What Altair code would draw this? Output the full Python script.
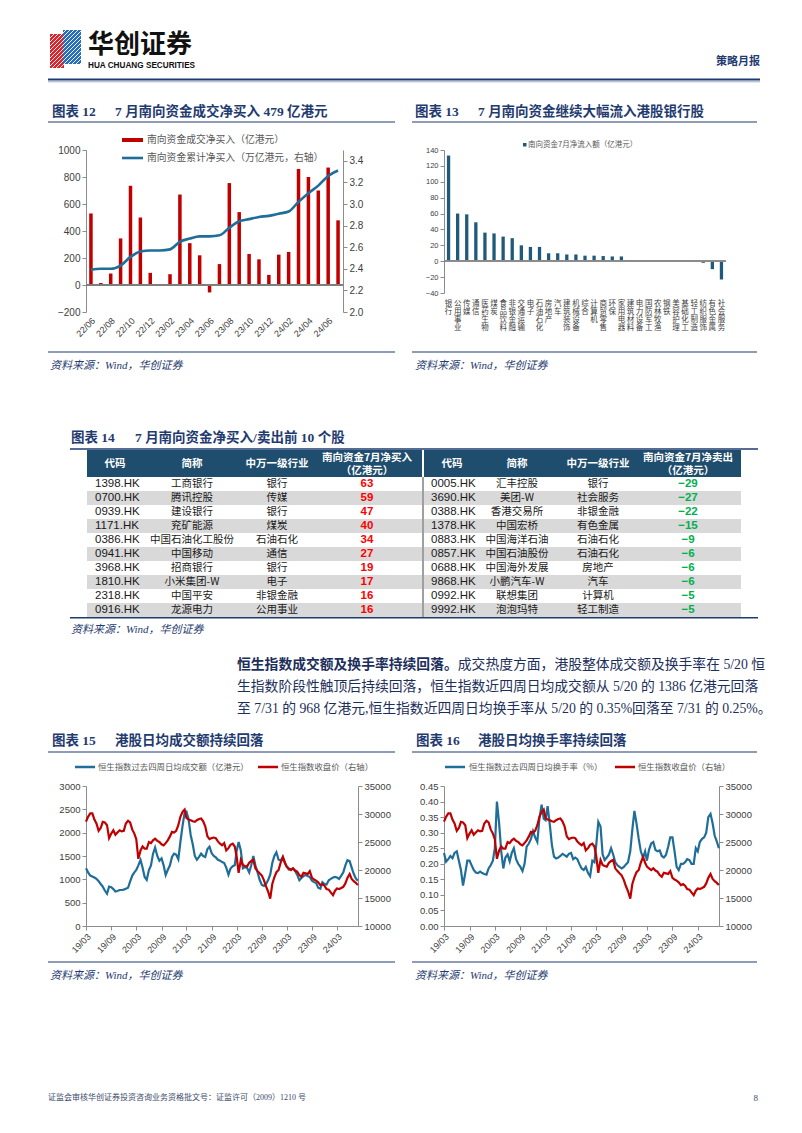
import altair as alt
import pandas as pd

FCN = "Noto Sans CJK SC"
FSER = "Liberation Serif, Noto Sans CJK SC"
FNUM = "Liberation Sans"
NAVY = "#1F3B70"
RED = "#C00000"
BLUE = "#1F6E99"
TEAL = "#1F5A7A"
AX = "#8C8C8C"
LAB = "#404040"
GTXT = "#595959"
HEAD = "#1F4D6D"
STRIPE = "#D9D9D9"

# ---------------- chart 12 data ----------------
months12 = ["22/06", "22/07", "22/08", "22/09", "22/10", "22/11", "22/12",
            "23/01", "23/02", "23/03", "23/04", "23/05", "23/06", "23/07",
            "23/08", "23/09", "23/10", "23/11", "23/12", "24/01", "24/02",
            "24/03", "24/04", "24/05", "24/06", "24/07"]
net_buy = [530, 15, 85, 345, 735, 500, 90, 3, 80, 670, 310, 220, -55, 155,
           755, 540, 230, 190, 75, 225, 245, 860, 800, 700, 870, 479]
cum_buy = [2.39, 2.40, 2.40, 2.43, 2.51, 2.56, 2.57, 2.57, 2.58, 2.65, 2.68,
           2.70, 2.70, 2.71, 2.78, 2.84, 2.86, 2.88, 2.89, 2.91, 2.93, 3.02,
           3.10, 3.17, 3.26, 3.31]

# ---------------- chart 13 data ----------------
ind_names = ["银行", "公用事业", "传媒", "通信", "医药生物", "煤炭", "食品饮料",
             "非银金融", "交通运输", "电子", "石油石化", "房地产", "汽车", "建筑装饰",
             "机械设备", "综合", "计算机", "商贸零售", "环保", "家用电器", "建筑材料",
             "电力设备", "国防军工", "农林牧渔", "钢铁", "美容护理", "基础化工",
             "轻工制造", "纺织服饰", "有色金属", "社会服务"]
ind_flow = [133, 60, 59, 49, 36, 35, 31, 29, 20, 18, 18, 10, 10, 8.5, 8.5, 7,
            7, 6.5, 6, 6, 1.5, 1, 0.5, 0.2, -0.3, -0.5, -0.7, -1, -2, -10, -23]

# ---------------- table 14 data ----------------
buy_codes = ["1398.HK", "0700.HK", "0939.HK", "1171.HK", "0386.HK", "0941.HK",
             "3968.HK", "1810.HK", "2318.HK", "0916.HK"]
buy_names = ["工商银行", "腾讯控股", "建设银行", "兖矿能源", "中国石油化工股份",
             "中国移动", "招商银行", "小米集团-W", "中国平安", "龙源电力"]
buy_inds = ["银行", "传媒", "银行", "煤炭", "石油石化", "通信", "银行", "电子",
            "非银金融", "公用事业"]
buy_vals = [63, 59, 47, 40, 34, 27, 19, 17, 16, 16]
sell_codes = ["0005.HK", "3690.HK", "0388.HK", "1378.HK", "0883.HK", "0857.HK",
              "0688.HK", "9868.HK", "0992.HK", "9992.HK"]
sell_names = ["汇丰控股", "美团-W", "香港交易所", "中国宏桥", "中国海洋石油",
              "中国石油股份", "中国海外发展", "小鹏汽车-W", "联想集团", "泡泡玛特"]
sell_inds = ["银行", "社会服务", "非银金融", "有色金属", "石油石化", "石油石化",
             "房地产", "汽车", "计算机", "轻工制造"]
sell_vals = [-29, -27, -22, -15, -9, -6, -6, -6, -5, -5]

# ---------------- chart 15 / 16 data (semi-monthly readings) ----------------
hsi = [28630, 29500, 30100, 30100, 29000, 28300, 27000, 27500, 28600, 28500,
       28000, 25700, 26500, 27100, 26300, 26700, 27100, 26900, 27000, 28300,
       28800, 28500, 27200, 26500, 25500, 22000, 23500, 24200, 23800, 23800,
       25000, 24800, 25300, 25600, 25200, 25000, 24600, 24400, 24800, 25300,
       26000, 26800, 26700, 27000, 28000, 29500, 30400, 30800, 29300, 29000,
       28900, 28700, 28600, 28900, 29100, 29200, 28700, 27800, 26000, 25500,
       25700, 25800, 25700, 25100, 24700, 24400, 24800, 23500, 23900, 24500,
       24700, 24200, 22500, 19500, 21800, 20900, 20700, 20600, 21300, 21600,
       21800, 20300, 19800, 19400, 19000, 18200, 17100, 16200, 14900, 17500,
       18700, 19600, 20000, 21300, 22300, 21300, 20600, 20300, 20000, 20300,
       19900, 19700, 19100, 18800, 19500, 19400, 19300, 19800, 18600, 18300,
       18100, 17800, 17300, 17500, 17200, 16600, 16500, 16000, 15500, 16300,
       16700, 16600, 16800, 17000, 17600, 18600, 19300, 18400, 18000, 17700, 17300]
turnover = [1236, 1150, 1080, 1060, 1040, 1010, 960, 900, 843, 760,
            690, 843, 830, 790, 740, 750, 771, 771, 780, 800,
            820, 950, 1080, 1150, 1200, 1300, 1414, 1250, 1050, 990,
            1200, 1300, 1550, 1680, 1500, 1400, 1450, 1300, 1093, 1200,
            1300, 1480, 1550, 1530, 1430, 1800, 2150, 2430, 2450, 2300,
            1950, 1750, 1500, 1420, 1480, 1550, 1500, 1480, 1650, 1700,
            1557, 1500, 1470, 1420, 1400, 1370, 1350, 1250, 1100, 1230,
            1280, 1300, 1600, 1800, 1620, 1236, 1260, 1250, 1150, 1300,
            1500, 1300, 1150, 990, 880, 860, 900, 980, 1100, 1350,
            1500, 1580, 1420, 1400, 1480, 1350, 1271, 1210, 1220, 1230,
            1180, 1100, 980, 1030, 1070, 1093, 1070, 1050, 970, 940,
            920, 820, 800, 940, 900, 890, 980, 1010, 1040, 1050,
            1040, 1010, 1080, 1150, 1300, 1410, 1390, 1250, 1120, 1020, 970]
turn_rate = [0.235, 0.207, 0.215, 0.225, 0.218, 0.235, 0.24, 0.21, 0.18, 0.13,
             0.17, 0.21, 0.21, 0.195, 0.18, 0.172, 0.17, 0.175, 0.17, 0.167,
             0.165, 0.185, 0.196, 0.21, 0.25, 0.40, 0.33, 0.24, 0.185, 0.22,
             0.23, 0.208, 0.235, 0.25, 0.215, 0.20, 0.19, 0.177, 0.20, 0.255,
             0.265, 0.28, 0.305, 0.285, 0.27, 0.345, 0.39, 0.345, 0.34, 0.385,
             0.325, 0.26, 0.223, 0.217, 0.22, 0.225, 0.232, 0.228, 0.223, 0.232,
             0.235, 0.215, 0.22, 0.215, 0.198, 0.185, 0.18, 0.19, 0.17, 0.16,
             0.21, 0.205, 0.26, 0.335, 0.32, 0.23, 0.212, 0.22, 0.23, 0.25,
             0.23, 0.205, 0.195, 0.19, 0.185, 0.19, 0.198, 0.205, 0.24, 0.31,
             0.37, 0.33, 0.28, 0.24, 0.22, 0.24, 0.21, 0.245, 0.265, 0.27,
             0.245, 0.24, 0.243, 0.225, 0.22, 0.228, 0.255, 0.285, 0.285, 0.24,
             0.19, 0.18, 0.20, 0.20, 0.205, 0.215, 0.212, 0.20, 0.20, 0.25,
             0.24, 0.27, 0.28, 0.285, 0.30, 0.35, 0.36, 0.33, 0.29, 0.272, 0.25]

dates = []
for yy in range(2019, 2025):
    for mm in range(1, 13):
        if (yy, mm) < (2019, 3) or (yy, mm) > (2024, 7):
            continue
        dates += [f"{yy}-{mm:02d}-01", f"{yy}-{mm:02d}-16"]
dates.append("2024-07-31")

tick_months = [(2019, 3), (2019, 9), (2020, 3), (2020, 9), (2021, 3), (2021, 9),
               (2022, 3), (2022, 9), (2023, 3), (2023, 9), (2024, 3)]

ONE = pd.DataFrame({"k": [0]})


# ---------------- helpers ----------------
def T(text, x, y, size=10, color="#000000", weight="normal", font=FCN,
      align="left", baseline="middle", style="normal"):
    return alt.Chart(ONE).mark_text(
        text=text, fontSize=size, color=color, fontWeight=weight, font=font,
        align=align, baseline=baseline, fontStyle=style
    ).encode(x=alt.value(x), y=alt.value(y))


def HR(x1, x2, y, color=NAVY, w=1.2):
    return alt.Chart(ONE).mark_rule(color=color, strokeWidth=w).encode(
        x=alt.value(x1), x2=alt.value(x2), y=alt.value(y))


def SEG(x1, y1, x2, y2, color, w):
    return alt.Chart(ONE).mark_rule(color=color, strokeWidth=w).encode(
        x=alt.value(x1), y=alt.value(y1), x2=alt.value(x2), y2=alt.value(y2))


def BOX(x1, x2, y1, y2, color):
    return alt.Chart(ONE).mark_rect(color=color).encode(
        x=alt.value(x1), x2=alt.value(x2), y=alt.value(y1), y2=alt.value(y2))


def sp(w=1, h=1):
    return alt.Chart(ONE).mark_point(opacity=0, size=1).encode(
        x=alt.value(w / 2), y=alt.value(h / 2)).properties(width=w, height=h)


def panel(items, h):
    return alt.layer(*items).properties(width=1, height=h)


def SRC(x, y):
    return T("资料来源：Wind，华创证券", x, y, 11, NAVY, style="italic", font=FSER)


def TITLE(num, rest, x1, x2, y):
    return [T(num, x1, y, 13.5, NAVY, "bold", font=FSER),
            T(rest, x2, y, 13.5, NAVY, "bold", font=FSER)]


def yaxis(values, size=10, orient="left", fmt="d"):
    return alt.Axis(values=values, orient=orient, title=None, grid=False,
                    domain=True, domainColor=AX, domainWidth=1, ticks=True,
                    tickColor=AX, tickSize=4, labelFont=FNUM, labelFontSize=size,
                    labelColor=LAB, labelPadding=2, format=fmt, labelOverlap=False)


# ---------------- D0: header + titles of charts 12/13 ----------------
d0 = [BOX(42, 56, 26, 60, "#D7282F"), BOX(55, 73, 22, 56, "#2A6EBB")]
for y0 in range(26, 110, 4):
    t0 = max(0.0, (y0 - 60) / 40, 4 / 40)
    t1 = min(1.0, (y0 - 22) / 40, 35 / 40)
    if t1 > t0:
        d0.append(SEG(38 + 40 * t0, y0 - 40 * t0, 38 + 40 * t1, y0 - 40 * t1, "#FFFFFF", 0.9))
d0 += [
    T("华创证券", 80, 37, 26, "#111111", "bold"),
    T("HUA CHUANG SECURITIES", 80, 57.5, 8.2, "#111111", "bold", font=FNUM),
    T("策略月报", 752, 54, 11, NAVY, "bold", align="right"),
    HR(40, 752, 71.5, NAVY, 2),
    HR(40, 752, 73.8, "#6F86B0", 0.7),
]
d0 += TITLE("图表 12", "7 月南向资金成交净买入 479 亿港元", 44, 107, 104)
d0 += TITLE("图表 13", "7 月南向资金继续大幅流入港股银行股", 407, 470, 104)
d0 += [HR(40, 387, 114), HR(404, 749, 114)]
D0 = panel(d0, 142)

# ---------------- chart 12 ----------------
df12 = pd.DataFrame({"m": months12, "net": net_buy, "cum": cum_buy})
sx12 = alt.Scale(paddingInner=0, paddingOuter=0)
ax12 = alt.Axis(values=months12[::2], title=None, domain=False, ticks=False,
                labelAngle=-45, labelFont=FNUM, labelFontSize=9,
                labelColor=LAB, labelPadding=4, labelOverlap=False)
sy12 = alt.Scale(domain=[-200, 1000], nice=False)
ay12 = yaxis([-200, 0, 200, 400, 600, 800, 1000], 10)
bars12 = alt.Chart(df12).mark_bar(size=3.5, color=RED).encode(
    x=alt.X("m:O", sort=months12, scale=sx12, axis=ax12),
    y=alt.Y("net:Q", scale=sy12, axis=ay12))
zero12 = alt.Chart(df12).mark_rule(color="#7F7F7F", strokeWidth=0.8).encode(
    y=alt.YDatum(0, scale=sy12, axis=ay12))
line12 = alt.Chart(df12).mark_line(color=BLUE, strokeWidth=2.6, interpolate="monotone").encode(
    x=alt.X("m:O", sort=months12, bandPosition=0.5, scale=sx12, axis=ax12),
    y=alt.Y("cum:Q", scale=alt.Scale(domain=[2.0, 3.5], nice=False, zero=False),
            axis=yaxis([2.0, 2.2, 2.4, 2.6, 2.8, 3.0, 3.2, 3.4], 10, "right", ".1f")))
leg12 = [BOX(36, 57, -12, -8, RED),
         T("南向资金成交净买入（亿港元）", 61, -10, 9.8, GTXT),
         SEG(36, 8, 57, 8, BLUE, 2.6),
         T("南向资金累计净买入（万亿港元，右轴）", 61, 8, 9.8, GTXT)]
ch12 = alt.layer(alt.layer(bars12, zero12), line12, *leg12).resolve_scale(
    y="independent").properties(width=257, height=162)

# ---------------- chart 13 ----------------
df13 = pd.DataFrame({"ind": ind_names, "v": ind_flow})
sy13 = alt.Scale(domain=[-40, 140], nice=False)
ay13 = yaxis(list(range(-40, 141, 20)), 7.5)
bars13 = alt.Chart(df13).mark_bar(size=3.3, color=TEAL).encode(
    x=alt.X("ind:N", sort=ind_names, scale=alt.Scale(paddingInner=0, paddingOuter=0),
            axis=alt.Axis(title=None, domain=False, ticks=False, labelAngle=0,
                          labelExpr="split(datum.label, '')", labelFont=FCN,
                          labelFontSize=7.5, labelLineHeight=8.3, labelColor=LAB,
                          labelBaseline="top", labelAlign="center", labelPadding=6,
                          labelOverlap=False)),
    y=alt.Y("v:Q", scale=sy13, axis=ay13))
zero13 = alt.Chart(df13).mark_rule(color=AX, strokeWidth=0.8).encode(
    y=alt.YDatum(0, scale=sy13, axis=ay13))
leg13 = [BOX(79, 82.5, -7, -3.5, TEAL),
         T("南向资金7月净流入额（亿港元）", 84, -5.2, 7.5, GTXT)]
ch13 = alt.layer(bars13, zero13, *leg13).properties(width=282, height=143)

# ---------------- D1: sources, table title, table header ----------------
d1 = [HR(40, 387, 40), HR(404, 749, 40), SRC(42, 54), SRC(407, 54)]
d1 += TITLE("图表 14", "7 月南向资金净买入/卖出前 10 个股", 63, 127, 126)
d1 += [HR(62, 750, 137, NAVY, 1.5),
       BOX(79, 414, 138, 165, HEAD), BOX(416, 733, 138, 165, HEAD)]
for xc, lbl in [(107, "代码"), (184, "简称"), (269, "中万一级行业"),
                (444, "代码"), (509, "简称"), (590, "中万一级行业")]:
    d1.append(T(lbl, xc, 152, 10.5, "#FFFFFF", "bold", align="center"))
d1 += [T("南向资金7月净买入", 359, 145.5, 10.5, "#FFFFFF", "bold", align="center"),
       T("（亿港元）", 359, 159, 10.5, "#FFFFFF", "bold", align="center"),
       T("南向资金7月净卖出", 680, 145.5, 10.5, "#FFFFFF", "bold", align="center"),
       T("（亿港元）", 680, 159, 10.5, "#FFFFFF", "bold", align="center")]
D1 = panel(d1, 165)

# ---------------- table body ----------------
rows = list(range(1, 11))
tab = pd.DataFrame({"row": rows, "bc": buy_codes, "bn": buy_names, "bi": buy_inds,
                    "bv": buy_vals, "sc": sell_codes, "sn": sell_names,
                    "si": sell_inds, "sv": sell_vals})
yrow = alt.Y("row:O", scale=alt.Scale(domain=rows, paddingInner=0, paddingOuter=0), axis=None)
stripeL = alt.Chart(tab).transform_filter("datum.row % 2 == 0").mark_rect(color=STRIPE).encode(
    y=yrow, x=alt.value(79), x2=alt.value(414))
stripeR = alt.Chart(tab).transform_filter("datum.row % 2 == 0").mark_rect(color=STRIPE).encode(
    y=yrow, x=alt.value(416), x2=alt.value(733))
sep = alt.Chart(ONE).mark_rule(color="#404040", strokeWidth=1).encode(
    x=alt.value(415), y=alt.value(0), y2=alt.value(140))


def col(field, x, align="center", font=FCN, size=10.5, color="#1A1A1A", weight="normal"):
    return alt.Chart(tab).mark_text(align=align, font=font, fontSize=size, color=color,
                                    fontWeight=weight).encode(
        y=yrow, x=alt.value(x), text=field)


cells = [col("bc:N", 87, "left", FNUM, 11.5), col("bn:N", 184), col("bi:N", 269),
         col("bv:Q", 359, "center", FNUM, 11.5, "#FF0000", "bold"),
         col("sc:N", 423, "left", FNUM, 11.5), col("sn:N", 509), col("si:N", 590),
         col("sv:Q", 680, "center", FNUM, 11.5, "#00B050", "bold")]
table = alt.layer(stripeL, stripeR, sep, *cells).properties(width=1, height=140)

# ---------------- D2: paragraph, titles 15/16, legends ----------------
BODY = "#1C2E5A"
PS = 13.8
d2 = [HR(62, 750, 0.8, NAVY, 1.5), SRC(63, 13),
      T("恒生指数成交额及换手率持续回落。", 229, 48, PS, BODY, "bold", font=FSER),
      T("成交热度方面，港股整体成交额及换手率在 5/20 恒", 229 + 16 * PS, 48, PS, BODY, font=FSER),
      T("生指数阶段性触顶后持续回落，恒生指数近四周日均成交额从 5/20 的 1386 亿港元回落", 229, 70, PS, BODY, font=FSER),
      T("至 7/31 的 968 亿港元,恒生指数近四周日均换手率从 5/20 的 0.35%回落至 7/31 的 0.25%。", 229, 92, PS, BODY, font=FSER)]
d2 += TITLE("图表 15", "港股日均成交额持续回落", 44, 107, 124)
d2 += TITLE("图表 16", "港股日均换手率持续回落", 408, 470, 124)
d2 += [HR(40, 387, 135), HR(404, 749, 135),
       SEG(67, 150, 87, 150, BLUE, 2.5), T("恒生指数过去四周日均成交额（亿港元）", 90, 150, 8.4, GTXT),
       SEG(250, 150, 270, 150, RED, 2.5), T("恒生指数收盘价（右轴）", 273, 150, 8.4, GTXT),
       SEG(437, 150, 457, 150, BLUE, 2.5), T("恒生指数过去四周日均换手率（%）", 461, 150, 8.4, GTXT),
       SEG(607, 150, 627, 150, RED, 2.5), T("恒生指数收盘价（右轴）", 630, 150, 8.4, GTXT)]
D2 = panel(d2, 169)

# ---------------- charts 15 / 16 ----------------
tdf = pd.DataFrame({"date": dates, "hsi": hsi, "amt": turnover, "rate": turn_rate})
xT = alt.X("date:T",
           scale=alt.Scale(domain=[alt.DateTime(year=2019, month=3, date=1),
                                   alt.DateTime(year=2024, month=8, date=1)]),
           axis=alt.Axis(values=[alt.DateTime(year=a, month=b, date=1) for a, b in tick_months],
                         format="%y/%m", labelAngle=-45, title=None, grid=False,
                         domainColor=AX, tickColor=AX, tickSize=4, labelFont=FNUM,
                         labelFontSize=9, labelColor=LAB, labelPadding=2,
                         labelOverlap=False, labelFlush=False))
red_y = alt.Y("hsi:Q", scale=alt.Scale(domain=[10000, 35000], nice=False, zero=False),
              axis=yaxis([10000, 15000, 20000, 25000, 30000, 35000], 9.5, "right"))

blue15 = alt.Chart(tdf).mark_line(color=BLUE, strokeWidth=2.2).encode(
    x=xT, y=alt.Y("amt:Q", scale=alt.Scale(domain=[0, 3000], nice=False),
                  axis=yaxis([0, 500, 1000, 1500, 2000, 2500, 3000], 9.5)))
red15 = alt.Chart(tdf).mark_line(color=RED, strokeWidth=2.2).encode(x=xT, y=red_y)
ch15 = alt.layer(blue15, red15).resolve_scale(y="independent").properties(width=272, height=140)

blue16 = alt.Chart(tdf).mark_line(color=BLUE, strokeWidth=2.2).encode(
    x=xT, y=alt.Y("rate:Q", scale=alt.Scale(domain=[0, 0.45], nice=False),
                  axis=yaxis([0, 0.05, 0.1, 0.15, 0.2, 0.25, 0.3, 0.35, 0.4, 0.45], 9.5, "left", ".2f")))
red16 = alt.Chart(tdf).mark_line(color=RED, strokeWidth=2.2).encode(x=xT, y=red_y)
ch16 = alt.layer(blue16, red16).resolve_scale(y="independent").properties(width=275, height=140)

# ---------------- D3: sources and footer ----------------
d3 = [HR(40, 387, 36), HR(404, 749, 36), SRC(42, 50), SRC(407, 50),
      T("证监会审核华创证券投资咨询业务资格批文号：证监许可（2009）1210 号", 40, 172, 8, "#3A4A6B", font=FSER),
      T("8", 750, 172, 9, "#3A4A6B", align="right", font=FSER)]
D3 = panel(d3, 199)

grid = [D0, sp(), sp(), sp(),
        sp(78, 162), ch12, sp(86), ch13,
        D1, sp(), sp(), sp(),
        table, sp(), sp(), sp(),
        D2, sp(), sp(), sp(),
        sp(78, 140), ch15, sp(86), ch16,
        D3, sp(), sp(), sp()]

chart = alt.concat(*grid, columns=4, spacing=0, bounds="flush", align="each").properties(
    padding=0, background="white").configure_view(strokeWidth=0)

chart.save("out.html", embed_options={"renderer": "svg", "actions": False})
